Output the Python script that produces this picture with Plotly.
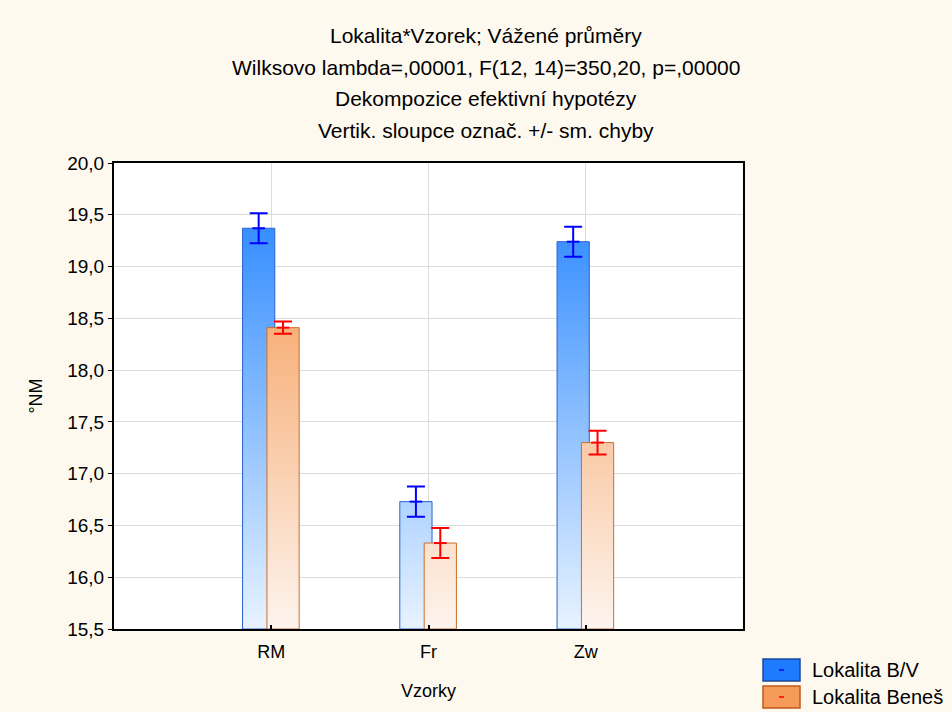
import plotly.graph_objects as go

# ---- data ----
categories = ["RM", "Fr", "Zw"]
series_names = ["Lokalita B/V", "Lokalita Beneš"]
values_bv = [19.37, 16.73, 19.24]
errors_bv = [0.145, 0.145, 0.145]
values_benes = [18.41, 16.33, 17.30]
errors_benes = [0.06, 0.145, 0.115]
y_ticks = [15.5, 16.0, 16.5, 17.0, 17.5, 18.0, 18.5, 19.0, 19.5, 20.0]
title_lines = [
    "Lokalita*Vzorek; Vážené průměry",
    "Wilksovo lambda=,00001, F(12, 14)=350,20, p=,00000",
    "Dekompozice efektivní hypotézy",
    "Vertik. sloupce označ. +/- sm. chyby",
]

FONT = "Liberation Sans, Arial, sans-serif"
BG = "#fef9ef"
Y_MIN, Y_MAX = 15.5, 20.0
BAR_W = 0.205
OFFSETS = [-0.08, 0.075]

series = [
    dict(vals=values_bv, errs=errors_bv, name=series_names[0],
         scale=[[0, "#e8f3ff"], [1, "#1a7eff"]], edge="#2a62d0", err="#0000ff"),
    dict(vals=values_benes, errs=errors_benes, name=series_names[1],
         scale=[[0, "#fdf4ee"], [1, "#f48b3b"]], edge="#c8702e", err="#ff0000"),
]

fig = go.Figure()
xpos = list(range(1, len(categories) + 1))

for s, off in zip(series, OFFSETS):
    for xc, v in zip(xpos, s["vals"]):
        x0 = xc + off - BAR_W / 2
        x1 = xc + off + BAR_W / 2
        fig.add_trace(go.Scatter(
            x=[x0, x0, x1, x1, x0], y=[Y_MIN, v, v, Y_MIN, Y_MIN],
            mode="lines", fill="toself",
            line=dict(color=s["edge"], width=1),
            fillgradient=dict(type="vertical", colorscale=s["scale"],
                              start=Y_MIN, stop=Y_MAX),
            showlegend=False, hoverinfo="skip"))
    fig.add_trace(go.Scatter(
        x=[xc + off for xc in xpos], y=s["vals"], mode="markers",
        marker=dict(symbol="line-ew", size=9, line=dict(color=s["err"], width=2)),
        error_y=dict(type="data", array=s["errs"], visible=True,
                     color=s["err"], thickness=2, width=9),
        name=s["name"], showlegend=False))

# title lines
title_y = [35, 67, 99, 130]
L, R, T, B = 114, 743, 163, 629
H = B - T
W = R - L
for txt, py in zip(title_lines, title_y):
    fig.add_annotation(text=txt, xref="paper", yref="paper",
                       x=(486 - L) / W, y=(B - py) / H,
                       xanchor="center", yanchor="middle", showarrow=False,
                       font=dict(size=21, color="#000000", family=FONT))

# legend (manual)
leg = [(659, 681, "#1e7bff", "#1a4a9a", "#0000ff"),
       (686, 708, "#f59a58", "#c0581c", "#ff0000")]
for (y0, y1, fc, lc, dc), s in zip(leg, series):
    fig.add_shape(type="rect", xref="paper", yref="paper",
                  x0=(763 - L) / W, x1=(800 - L) / W,
                  y0=(B - y0) / H, y1=(B - y1) / H,
                  fillcolor=fc, line=dict(color=lc, width=1.5))
    cy = (B - (y0 + y1) / 2) / H
    fig.add_shape(type="line", xref="paper", yref="paper",
                  x0=(779 - L) / W, x1=(784 - L) / W, y0=cy, y1=cy,
                  line=dict(color=dc, width=1.5))
    fig.add_annotation(text=s["name"], xref="paper", yref="paper",
                       x=(810 - L) / W, y=cy, xanchor="left", yanchor="middle",
                       showarrow=False,
                       font=dict(size=20, color="#000000", family=FONT))

fig.update_layout(
    width=952, height=712,
    margin=dict(l=L, r=952 - R, t=T, b=712 - B, pad=0),
    paper_bgcolor=BG, plot_bgcolor="#ffffff",
    separators=", ",
    font=dict(family=FONT, size=18, color="#000000"),
    showlegend=False,
)
fig.update_xaxes(
    range=[0, 4], tickmode="array", tickvals=xpos, ticktext=categories,
    showgrid=True, gridcolor="#dcdcdc", gridwidth=1, zeroline=False,
    showline=True, linecolor="#000000", linewidth=2, mirror=True,
    ticks="inside", ticklen=4, tickcolor="#000000", tickwidth=2,
    ticklabelstandoff=5,
    title=dict(text="Vzorky", standoff=24, font=dict(size=18, family=FONT)),
    tickfont=dict(size=18, family=FONT),
)
fig.update_yaxes(
    range=[Y_MIN, Y_MAX], tickmode="array", tickvals=y_ticks,
    ticktext=[f"{t:.1f}".replace(".", ",") for t in y_ticks],
    showgrid=True, gridcolor="#dcdcdc", gridwidth=1, zeroline=False,
    showline=True, linecolor="#000000", linewidth=2, mirror=True,
    ticks="outside", ticklen=4, tickcolor="#000000", tickwidth=1,
    title=dict(text="°NM", standoff=20, font=dict(size=18, family=FONT)),
    tickfont=dict(size=19, family=FONT),
)

fig.write_html(
    "out.html",
    config={"displayModeBar": False},
    post_script=("document.body.style.margin='0';"
                 "document.body.style.background='" + BG + "';"),
)
